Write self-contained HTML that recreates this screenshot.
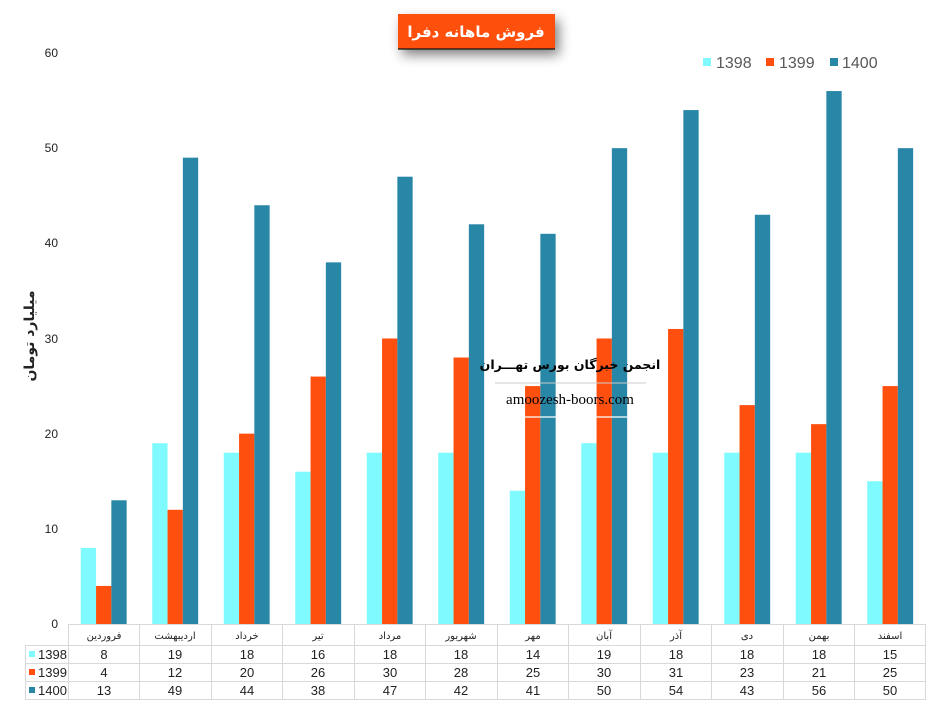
<!DOCTYPE html>
<html><head><meta charset="utf-8"><style>
body{margin:0;background:#fff;}
svg{display:block;font-family:"Liberation Sans","DejaVu Sans",sans-serif;}
</style></head><body>
<svg width="933" height="707" viewBox="0 0 933 707" xmlns="http://www.w3.org/2000/svg">
<defs><filter id="sh" x="-30%" y="-50%" width="160%" height="220%"><feGaussianBlur in="SourceAlpha" stdDeviation="6"/><feOffset dx="4" dy="6"/><feComponentTransfer><feFuncA type="linear" slope="0.5"/></feComponentTransfer><feMerge><feMergeNode/><feMergeNode in="SourceGraphic"/></feMerge></filter></defs>
<rect width="933" height="707" fill="#fff"/>
<rect x="398" y="14" width="157" height="35" fill="#FF4F0F" filter="url(#sh)"/>
<line x1="398" y1="49" x2="555" y2="49" stroke="#111" stroke-width="1.2"/>
<text x="476" y="37" text-anchor="middle" fill="#fff" font-size="15" font-weight="bold" font-family="DejaVu Sans,sans-serif">فروش ماهانه دفرا</text>
<g font-size="16" fill="#595959">
<rect x="703" y="58" width="8" height="8" fill="#7FFBFF"/><text x="716" y="68">1398</text>
<rect x="766" y="58" width="8" height="8" fill="#FF4F0F"/><text x="779" y="68">1399</text>
<rect x="830" y="58" width="8" height="8" fill="#2886A6"/><text x="842" y="68">1400</text>
</g>
<g font-size="12" fill="#222" text-anchor="end">
<text x="58" y="628">0</text><text x="58" y="533">10</text><text x="58" y="438">20</text><text x="58" y="343">30</text><text x="58" y="247">40</text><text x="58" y="152">50</text><text x="58" y="57">60</text>
</g>
<text transform="translate(34,336) rotate(-90)" text-anchor="middle" font-size="14" font-weight="bold" fill="#222" font-family="DejaVu Sans,sans-serif">میلیارد تومان</text>
<g transform="translate(0,624) scale(1,-9.517)">
<g transform="translate(103.75,0)"><rect x="-23" width="15.3" height="8" fill="#7FFBFF"/><rect x="-7.7" width="15.3" height="4" fill="#FF4F0F"/><rect x="7.6" width="15.3" height="13" fill="#2886A6"/></g>
<g transform="translate(175.25,0)"><rect x="-23" width="15.3" height="19" fill="#7FFBFF"/><rect x="-7.7" width="15.3" height="12" fill="#FF4F0F"/><rect x="7.6" width="15.3" height="49" fill="#2886A6"/></g>
<g transform="translate(246.75,0)"><rect x="-23" width="15.3" height="18" fill="#7FFBFF"/><rect x="-7.7" width="15.3" height="20" fill="#FF4F0F"/><rect x="7.6" width="15.3" height="44" fill="#2886A6"/></g>
<g transform="translate(318.25,0)"><rect x="-23" width="15.3" height="16" fill="#7FFBFF"/><rect x="-7.7" width="15.3" height="26" fill="#FF4F0F"/><rect x="7.6" width="15.3" height="38" fill="#2886A6"/></g>
<g transform="translate(389.75,0)"><rect x="-23" width="15.3" height="18" fill="#7FFBFF"/><rect x="-7.7" width="15.3" height="30" fill="#FF4F0F"/><rect x="7.6" width="15.3" height="47" fill="#2886A6"/></g>
<g transform="translate(461.25,0)"><rect x="-23" width="15.3" height="18" fill="#7FFBFF"/><rect x="-7.7" width="15.3" height="28" fill="#FF4F0F"/><rect x="7.6" width="15.3" height="42" fill="#2886A6"/></g>
<g transform="translate(532.75,0)"><rect x="-23" width="15.3" height="14" fill="#7FFBFF"/><rect x="-7.7" width="15.3" height="25" fill="#FF4F0F"/><rect x="7.6" width="15.3" height="41" fill="#2886A6"/></g>
<g transform="translate(604.25,0)"><rect x="-23" width="15.3" height="19" fill="#7FFBFF"/><rect x="-7.7" width="15.3" height="30" fill="#FF4F0F"/><rect x="7.6" width="15.3" height="50" fill="#2886A6"/></g>
<g transform="translate(675.75,0)"><rect x="-23" width="15.3" height="18" fill="#7FFBFF"/><rect x="-7.7" width="15.3" height="31" fill="#FF4F0F"/><rect x="7.6" width="15.3" height="54" fill="#2886A6"/></g>
<g transform="translate(747.25,0)"><rect x="-23" width="15.3" height="18" fill="#7FFBFF"/><rect x="-7.7" width="15.3" height="23" fill="#FF4F0F"/><rect x="7.6" width="15.3" height="43" fill="#2886A6"/></g>
<g transform="translate(818.75,0)"><rect x="-23" width="15.3" height="18" fill="#7FFBFF"/><rect x="-7.7" width="15.3" height="21" fill="#FF4F0F"/><rect x="7.6" width="15.3" height="56" fill="#2886A6"/></g>
<g transform="translate(890.25,0)"><rect x="-23" width="15.3" height="15" fill="#7FFBFF"/><rect x="-7.7" width="15.3" height="25" fill="#FF4F0F"/><rect x="7.6" width="15.3" height="50" fill="#2886A6"/></g>
</g>
<text x="570" y="369" text-anchor="middle" font-size="12.5" font-weight="bold" fill="#000" font-family="DejaVu Sans,sans-serif">انجمن خبرگان بورس تهـــران</text>
<line x1="495" y1="383" x2="646" y2="383" stroke="#ccc" stroke-width="1"/>
<text x="570" y="404" text-anchor="middle" font-size="15" fill="#000" font-family="Liberation Serif,serif">amoozesh-boors.com</text>
<line x1="525" y1="417" x2="627" y2="417" stroke="#fff" stroke-width="1.2"/>
<g stroke="#d9d9d9" stroke-width="1" fill="none">
<line x1="68" y1="624.5" x2="926" y2="624.5"/>
<line x1="25" y1="645.5" x2="926" y2="645.5"/>
<line x1="25" y1="663.5" x2="926" y2="663.5"/>
<line x1="25" y1="681.5" x2="926" y2="681.5"/>
<line x1="25" y1="699.5" x2="926" y2="699.5"/>
<line x1="25.5" y1="645" x2="25.5" y2="700"/>
<line x1="68.5" y1="624" x2="68.5" y2="700"/>
<line x1="139.5" y1="624" x2="139.5" y2="700"/><line x1="211.5" y1="624" x2="211.5" y2="700"/><line x1="282.5" y1="624" x2="282.5" y2="700"/><line x1="354.5" y1="624" x2="354.5" y2="700"/><line x1="425.5" y1="624" x2="425.5" y2="700"/><line x1="497.5" y1="624" x2="497.5" y2="700"/><line x1="568.5" y1="624" x2="568.5" y2="700"/><line x1="640.5" y1="624" x2="640.5" y2="700"/><line x1="711.5" y1="624" x2="711.5" y2="700"/><line x1="783.5" y1="624" x2="783.5" y2="700"/><line x1="854.5" y1="624" x2="854.5" y2="700"/><line x1="925.5" y1="624" x2="925.5" y2="700"/>
</g>
<g font-size="10" fill="#222" text-anchor="middle" font-family="DejaVu Sans,sans-serif">
<text x="104" y="639">فروردین</text><text x="175" y="639">اردیبهشت</text><text x="247" y="639">خرداد</text><text x="318" y="639">تیر</text><text x="390" y="639">مرداد</text><text x="461" y="639">شهریور</text><text x="533" y="639">مهر</text><text x="604" y="639">آبان</text><text x="676" y="639">آذر</text><text x="747" y="639">دی</text><text x="819" y="639">بهمن</text><text x="890" y="639">اسفند</text>
</g>
<rect x="29" y="651" width="6" height="6" fill="#7FFBFF"/><rect x="29" y="669" width="6" height="6" fill="#FF4F0F"/><rect x="29" y="687" width="6" height="6" fill="#2886A6"/>
<g font-size="13" fill="#222"><text x="38" y="659">1398</text><text x="38" y="677">1399</text><text x="38" y="695">1400</text></g>
<g font-size="13" fill="#222" text-anchor="middle">
<g transform="translate(0,659)"><text x="104">8</text><text x="175">19</text><text x="247">18</text><text x="318">16</text><text x="390">18</text><text x="461">18</text><text x="533">14</text><text x="604">19</text><text x="676">18</text><text x="747">18</text><text x="819">18</text><text x="890">15</text></g>
<g transform="translate(0,677)"><text x="104">4</text><text x="175">12</text><text x="247">20</text><text x="318">26</text><text x="390">30</text><text x="461">28</text><text x="533">25</text><text x="604">30</text><text x="676">31</text><text x="747">23</text><text x="819">21</text><text x="890">25</text></g>
<g transform="translate(0,695)"><text x="104">13</text><text x="175">49</text><text x="247">44</text><text x="318">38</text><text x="390">47</text><text x="461">42</text><text x="533">41</text><text x="604">50</text><text x="676">54</text><text x="747">43</text><text x="819">56</text><text x="890">50</text></g>
</g>
</svg>
</body></html>
